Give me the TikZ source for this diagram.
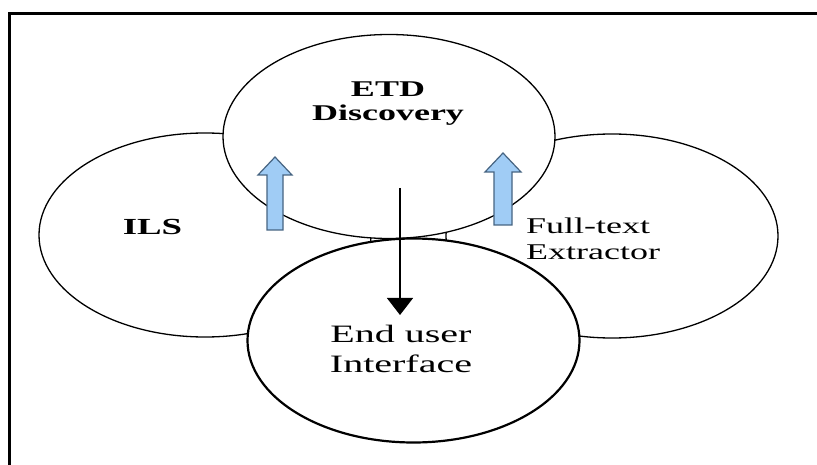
\documentclass[tikz,border=0pt]{standalone}
\usepackage{graphicx}
\usepackage{fontspec}
\setmainfont{Liberation Serif}
\usetikzlibrary{shapes.geometric,arrows.meta}
\newcommand{\stx}[1]{\scalebox{1.6}[1]{#1}}
\definecolor{arrowfill}{RGB}{160,204,245}
\definecolor{arrowline}{RGB}{70,100,130}
\begin{document}
\begin{tikzpicture}[x=1pt,y=-1pt,
  bubble/.style={draw=black, line width=1.3pt, fill=white, ellipse,
    minimum width=332pt, minimum height=204pt, inner sep=0pt},
  blockarrow/.style={fill=arrowfill, draw=arrowline, line width=1.2pt, line join=miter},
  lbl/.style={inner sep=0pt, anchor=base},
  boldlbl/.style={lbl, font=\fontsize{22.5}{24}\selectfont\bfseries},
  reglbl/.style={lbl, font=\fontsize{22.5}{24}\selectfont},
  biglbl/.style={lbl, font=\fontsize{25}{27}\selectfont}]
\useasboundingbox (0,0) rectangle (817,465);
\fill[white] (0,0) rectangle (817,465);
\draw[line width=3pt] (9,465) -- (9,14) -- (817,14);
% circles
\node[bubble] (ils) at (205,235) {};
\node[bubble] (ft) at (612,236) {};
\node[bubble] (etd) at (389,136.5) {};
\node[bubble, line width=2.2pt] (eu) at (413.5,340.5) {};
% blue block arrows
\draw[blockarrow] (267,230) -- (267,175) -- (258,175) -- (275,157) -- (292,175) -- (283,175) -- (283,230) -- cycle;
\draw[blockarrow] (494,225) -- (494,172) -- (485,172) -- (503,153) -- (521,172) -- (512,172) -- (512,225) -- cycle;
% black arrow
\coordinate (a1) at (400,188);
\coordinate (a2) at (400,315);
\draw[line width=1.3pt, -{Triangle[length=17pt,width=26pt]}] (a1) -- (a2);
% labels
\node[boldlbl] (t1) at (388,97) {\stx{ETD}};
\node[boldlbl] (t2) at (388,121) {\stx{Discovery}};
\node[boldlbl, font=\fontsize{23}{25}\selectfont\bfseries] (t3) at (152.5,235) {\stx{ILS}};
\node[reglbl, anchor=base west] (t4) at (526,234) {\stx{Full-text}};
\node[reglbl, anchor=base west] (t5) at (526,260) {\stx{Extractor}};
\node[biglbl] (t6) at (401,342) {\stx{End user}};
\node[biglbl] (t7) at (401,372) {\stx{Interface}};
\end{tikzpicture}
\end{document}
